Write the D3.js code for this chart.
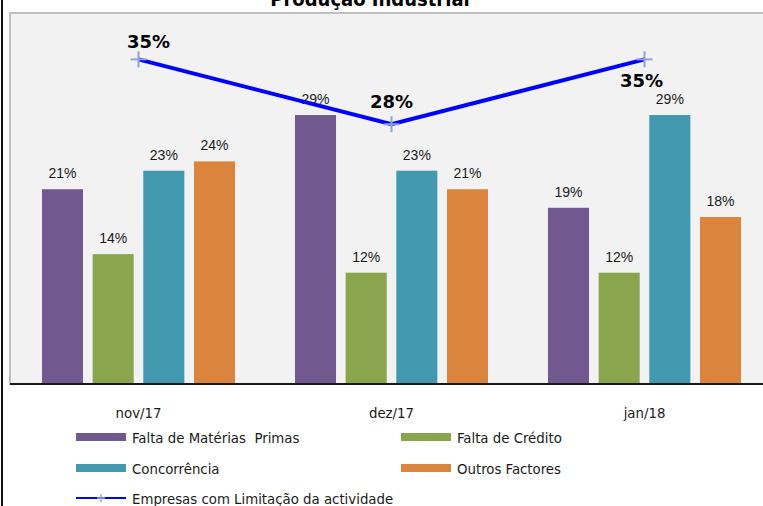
<!DOCTYPE html>
<html>
<head>
<meta charset="utf-8">
<script src="https://cdn.jsdelivr.net/npm/d3@7"></script>
<style>
  html, body { margin: 0; padding: 0; background: #ffffff; }
  svg { display: block; }
</style>
</head>
<body>
<svg id="chart" width="763" height="506"></svg>
<script>
// Months shown on the category axis
const categories = ['nov/17', 'dez/17', 'jan/18'];

// Bar series (percentage of firms citing each factor)
const seriesNames = ['Falta de Matérias  Primas', 'Falta de Crédito', 'Concorrência', 'Outros Factores'];
const materiasPrimas = [21, 29, 19];
const faltaCredito = [14, 12, 12];
const concorrencia = [23, 23, 29];
const outrosFactores = [24, 21, 18];

// Line series
const lineName = 'Empresas com Limitação da actividade';
const limitacao = [35, 28, 35];

// Value axis
const yDomain = [0, 40];

const seriesValues = [materiasPrimas, faltaCredito, concorrencia, outrosFactores];
const colors = ['#71588f', '#89a54e', '#4198af', '#db843d'];

const svg = d3.select('#chart');
const W = 763, H = 506;

const plot = { left: 10, top: 13, right: 780, bottom: 384 };
const sansFont = '"DejaVu Sans Condensed", "DejaVu Sans", sans-serif';
const labelFont = '"Liberation Sans", Arial, sans-serif';

// Outer frame (left edge)
svg.append('line')
  .attr('x1', 2).attr('x2', 2).attr('y1', 0).attr('y2', H)
  .attr('stroke', '#111').attr('stroke-width', 2);

// Title
svg.append('text')
  .attr('x', 370).attr('y', 6)
  .attr('text-anchor', 'middle')
  .attr('font-family', sansFont)
  .attr('font-weight', 'bold')
  .attr('font-size', 20)
  .attr('fill', '#000')
  .text('Produção Industrial');

// Plot background
svg.append('rect')
  .attr('x', plot.left).attr('y', plot.top)
  .attr('width', plot.right - plot.left).attr('height', plot.bottom - plot.top)
  .attr('fill', '#f2f2f2')
  .attr('stroke', '#bfbfbf').attr('stroke-width', 2);

// Scales
const x0 = d3.scaleBand()
  .domain(categories)
  .range([12, 12 + 3 * 253])
  .paddingInner(0.237)
  .paddingOuter(0.1185);

const x1 = d3.scaleBand()
  .domain(seriesNames)
  .range([0, x0.bandwidth()])
  .paddingInner(0.19);

const y = d3.scaleLinear().domain(yDomain).range([plot.bottom, plot.top]);

// Bars
const groups = svg.append('g').selectAll('g')
  .data(categories)
  .join('g')
  .attr('transform', d => `translate(${x0(d)},0)`);

groups.selectAll('rect')
  .data((c, ci) => seriesNames.map((s, si) => ({ s, si, v: seriesValues[si][ci] })))
  .join('rect')
  .attr('x', d => x1(d.s))
  .attr('y', d => y(d.v))
  .attr('width', x1.bandwidth())
  .attr('height', d => y(0) - y(d.v))
  .attr('fill', d => colors[d.si]);

groups.selectAll('text')
  .data((c, ci) => seriesNames.map((s, si) => ({ s, si, v: seriesValues[si][ci] })))
  .join('text')
  .attr('x', d => x1(d.s) + x1.bandwidth() / 2)
  .attr('y', d => y(d.v) - 11)
  .attr('text-anchor', 'middle')
  .attr('font-family', labelFont)
  .attr('font-size', 14)
  .attr('fill', '#1a1a1a')
  .text(d => d.v + '%');

// Category axis
const xAxis = d3.axisBottom(x0).tickSize(0).tickPadding(0);
const axisG = svg.append('g')
  .attr('transform', `translate(0,${plot.bottom})`)
  .call(xAxis);
axisG.select('.domain').remove();
axisG.selectAll('text')
  .attr('dy', 0)
  .attr('y', 34)
  .attr('font-family', sansFont)
  .attr('font-size', 14.8)
  .attr('fill', '#1a1a1a');

svg.append('line')
  .attr('x1', plot.left).attr('x2', W)
  .attr('y1', plot.bottom).attr('y2', plot.bottom)
  .attr('stroke', '#1a1a1a').attr('stroke-width', 2);

// Line series
const lineX = c => x0(c) + x0.bandwidth() / 2;
const linePts = categories.map((c, i) => ({ c, v: limitacao[i] }));

svg.append('path')
  .datum(linePts)
  .attr('fill', 'none')
  .attr('stroke', '#0000ff')
  .attr('stroke-width', 4)
  .attr('stroke-linejoin', 'miter')
  .attr('d', d3.line().x(d => lineX(d.c)).y(d => y(d.v)));

function plusMarker(g, cx, cy, r, w) {
  g.append('line').attr('x1', cx - r).attr('x2', cx + r).attr('y1', cy).attr('y2', cy)
    .attr('stroke', '#8ea3d6').attr('stroke-width', w);
  g.append('line').attr('x1', cx).attr('x2', cx).attr('y1', cy - r).attr('y2', cy + r)
    .attr('stroke', '#8ea3d6').attr('stroke-width', w);
}

const markers = svg.append('g');
linePts.forEach(d => plusMarker(markers, lineX(d.c), y(d.v), 8, 2));

// Line value labels: first two above the point, last one below
const lineLabelDy = [-11, -16, 28];
const lineLabelDx = [10, 0, -3];
svg.append('g').selectAll('text')
  .data(linePts)
  .join('text')
  .attr('x', (d, i) => lineX(d.c) + lineLabelDx[i])
  .attr('y', (d, i) => y(d.v) + lineLabelDy[i])
  .attr('text-anchor', 'middle')
  .attr('font-family', '"DejaVu Sans", sans-serif')
  .attr('font-weight', 'bold')
  .attr('font-size', 18)
  .attr('fill', '#000')
  .text(d => d.v + '%');

// Legend
const legendItems = [
  { name: seriesNames[0], color: colors[0], x: 76, y: 443 },
  { name: seriesNames[1], color: colors[1], x: 401, y: 443 },
  { name: seriesNames[2], color: colors[2], x: 76, y: 474 },
  { name: seriesNames[3], color: colors[3], x: 401, y: 474 }
];
const legend = svg.append('g');
legendItems.forEach(it => {
  legend.append('rect')
    .attr('x', it.x).attr('y', it.y - 10)
    .attr('width', 50).attr('height', 8)
    .attr('fill', it.color);
  legend.append('text')
    .attr('x', it.x + 56).attr('y', it.y)
    .attr('font-family', sansFont)
    .attr('font-size', 14.8)
    .attr('fill', '#1a1a1a')
    .style('white-space', 'pre')
    .text(it.name);
});
legend.append('line')
  .attr('x1', 76).attr('x2', 126).attr('y1', 498).attr('y2', 498)
  .attr('stroke', '#0000ff').attr('stroke-width', 2);
plusMarker(legend, 101, 498, 4, 1.5);
legend.append('text')
  .attr('x', 132).attr('y', 504)
  .attr('font-family', sansFont)
  .attr('font-size', 14.8)
  .attr('fill', '#1a1a1a')
  .text(lineName);
</script>
</body>
</html>
